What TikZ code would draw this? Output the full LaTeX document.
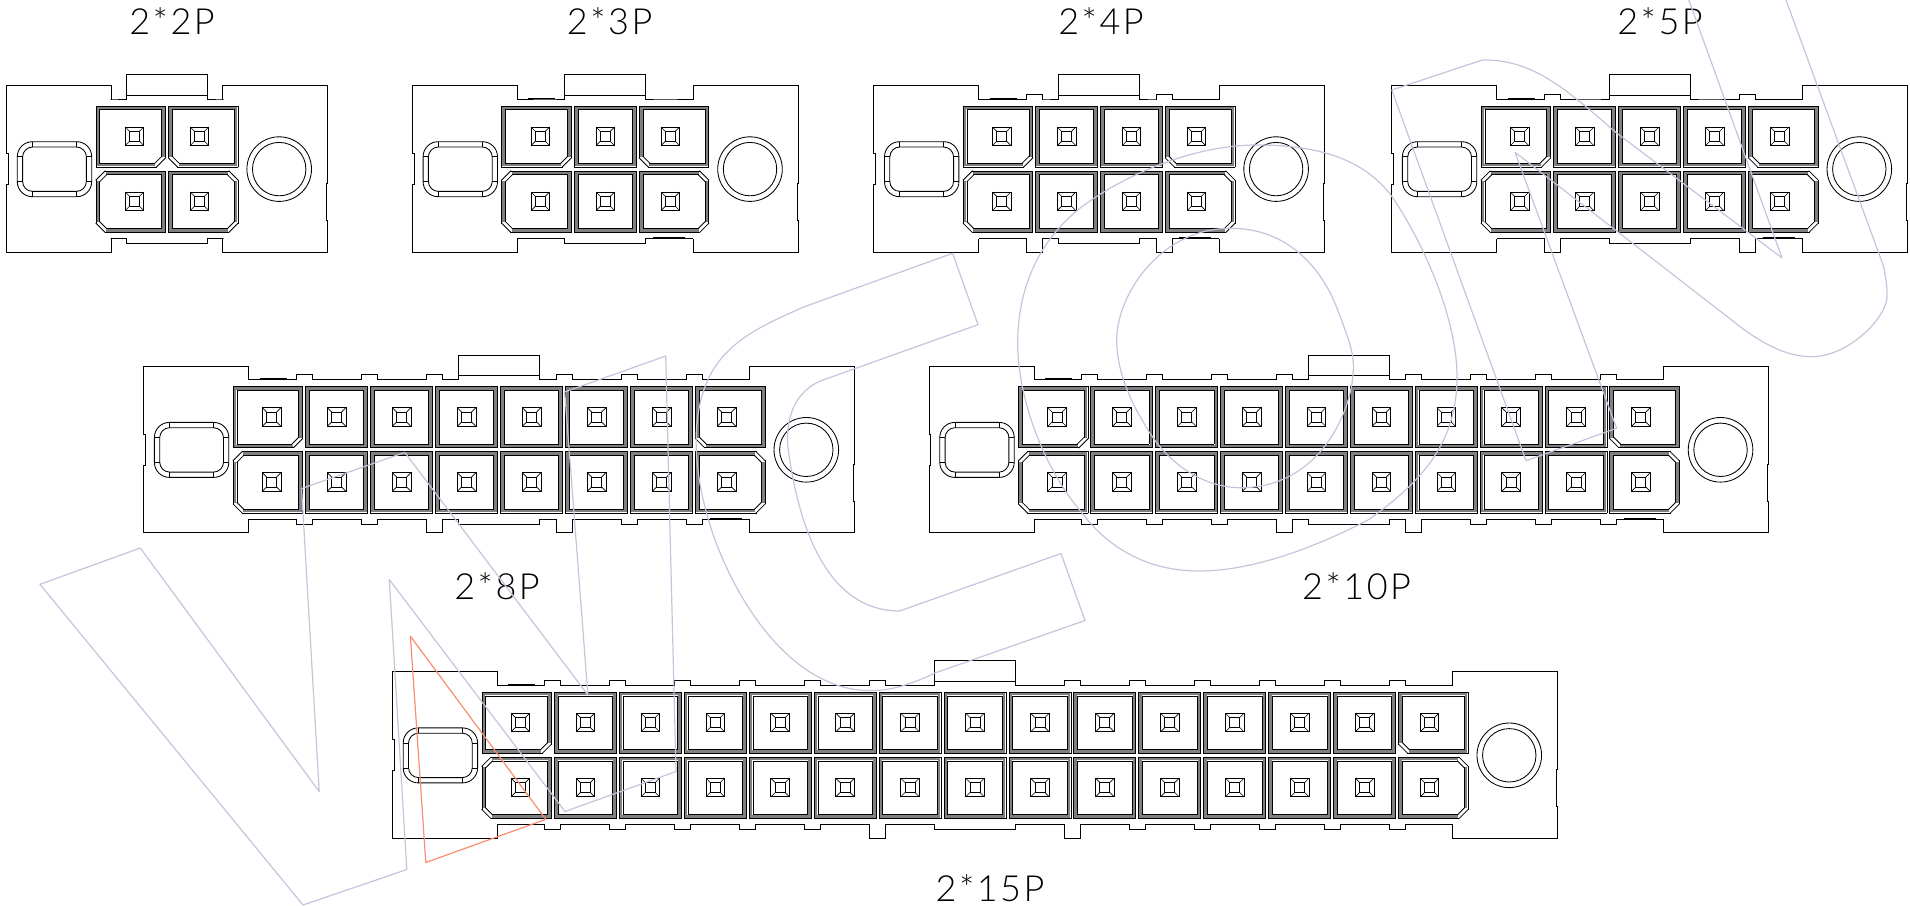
\documentclass[tikz,border=0pt]{standalone}
\usepackage{fontspec}
\newfontfamily\capfont[LetterSpace=7]{Lato Light}
\usetikzlibrary{positioning}
\definecolor{markblue}{RGB}{196,196,220}
\definecolor{markred}{RGB}{250,140,112}
\tikzstyle{partline} = [draw, black, line width=0.85pt, line join=miter]
\tikzstyle{cavityline} = [draw, black, line width=0.8pt, line cap=rect]
\tikzstyle{cavityband} = [draw, black!50, line width=2.6pt, line cap=rect]
\tikzstyle{pinline} = [draw, black, line width=0.8pt]
\tikzstyle{watermark} = [draw, markblue, line width=1.2pt, line join=round]
\tikzstyle{redmark} = [draw, markred, line width=1.2pt, line join=round]
\tikzstyle{caption} = [inner sep=0pt, font=\capfont\fontsize{36}{36}\selectfont]

% left, top, right, bottom, then chamfers top-left, top-right, bottom-right, bottom-left
\newcommand{\cavity}[8]{
    \pgfmathsetmacro\gtl{#5>0 ? #5+0.5 : 0}
    \pgfmathsetmacro\gtr{#6>0 ? #6+0.5 : 0}
    \pgfmathsetmacro\gbr{#7>0 ? #7+0.5 : 0}
    \pgfmathsetmacro\gbl{#8>0 ? #8+0.5 : 0}
    \path [cavityband] (#1+1.9+\gtl,#2+1.9) -- (#3-1.9-\gtr,#2+1.9);
    \path [cavityband] (#3-1.9,#2+1.9+\gtr) -- (#3-1.9,#4-1.9-\gbr);
    \path [cavityband] (#3-1.9-\gbr,#4-1.9) -- (#1+1.9+\gbl,#4-1.9);
    \path [cavityband] (#1+1.9,#4-1.9-\gbl) -- (#1+1.9,#2+1.9+\gtl);
    \foreach \d in {0,3.8} {
        \pgfmathsetmacro\ctl{#5>0 ? #5-0.59*\d : 0}
        \pgfmathsetmacro\ctr{#6>0 ? #6-0.59*\d : 0}
        \pgfmathsetmacro\cbr{#7>0 ? #7-0.59*\d : 0}
        \pgfmathsetmacro\cbl{#8>0 ? #8-0.59*\d : 0}
        \path [cavityline] (#1+\d+\ctl,#2+\d) -- (#3-\d-\ctr,#2+\d);
        \path [cavityline] (#3-\d,#2+\d+\ctr) -- (#3-\d,#4-\d-\cbr);
        \path [cavityline] (#3-\d-\cbr,#4-\d) -- (#1+\d+\cbl,#4-\d);
        \path [cavityline] (#1+\d,#4-\d-\cbl) -- (#1+\d,#2+\d+\ctl);
        \ifdim\ctl pt>0pt \path [cavityline] (#1+\d,#2+\d+\ctl) -- (#1+\d+\ctl,#2+\d); \fi
        \ifdim\ctr pt>0pt \path [cavityline] (#3-\d-\ctr,#2+\d) -- (#3-\d,#2+\d+\ctr); \fi
        \ifdim\cbr pt>0pt \path [cavityline] (#3-\d,#4-\d-\cbr) -- (#3-\d-\cbr,#4-\d); \fi
        \ifdim\cbl pt>0pt \path [cavityline] (#1+\d+\cbl,#4-\d) -- (#1+\d,#4-\d-\cbl); \fi
    }
}

% first pin x, upper pin y, pins per row, pin pitch
\newcommand{\connector}[4]{
\begin{scope}[shift={(#1,#2)}]
    \pgfmathsetmacro\lastx{(#3-1)*#4}
    \pgfmathsetmacro\midx{\lastx/2}
    \pgfmathtruncatemacro\nmid{floor((#3-1)/2)}
    \pgfmathsetmacro\oddoff{mod(#3,2)==1 ? 0.5 : 0}
    % body, one half each side of the middle
    \foreach \s in {-1,1} {
        \begin{scope}[shift={(\midx,0)}, xscale=\s]
            \pgfmathsetmacro\hw{\midx+23}
            \pgfmathsetmacro\edge{\midx+128}
            \pgfmathsetmacro\joga{\s<0 ? 17 : 47}
            \pgfmathsetmacro\jogb{\s<0 ? 48 : 84}
            \pgfmathsetmacro\jogw{\s<0 ? 1.7 : 1}
            \path [partline] (0,-61.6) -- (40.5,-61.6) -- (40.5,-37.3)
                \foreach \j [evaluate=\j as \o using (\j-\oddoff)*#4,
                             evaluate=\j as \mx using {(\o<40) ? 48.5 : \o},
                             evaluate=\j as \h using {(\o<40) ? 0 : 5}] in {0,...,\nmid} {
                    -- (\mx-8,-37.3) -- (\mx-8,-37.3-\h) -- (\mx+8,-37.3-\h) -- (\mx+8,-37.3)
                }
                -- (\hw,-37.3) -- (\hw,-50.6) -- (\edge,-50.6) -- (\edge,\joga)
                -- (\edge-\jogw,\joga) -- (\edge-\jogw,\jogb) -- (\edge,\jogb)
                -- (\edge,115.7) -- (\hw,115.7) -- (\hw,102.4);
            \path [partline] (0,107.4) -- (40.5,107.4) -- (40.5,102.4)
                \foreach \j [evaluate=\j as \o using (\j-\oddoff)*#4,
                             evaluate=\j as \mx using {(\o<40) ? 48.5 : \o},
                             evaluate=\j as \h using {(\o<40) ? 0 : ((\o-#4<40) ? 13.3 : 5)}] in {0,...,\nmid} {
                    -- (\mx-8,102.4) -- (\mx-8,102.4+\h) -- (\mx+8,102.4+\h) -- (\mx+8,102.4)
                }
                -- (\hw,102.4);
            \path [partline] (0,-41.3) -- (40.5,-41.3);
        \end{scope}
    }
    \ifnum#3>2
        \path [partline] (-12,-38.3) -- (15,-38.3);
        \path [partline] (\lastx-17,101.6) -- (\lastx+15,101.6);
    \fi
    % cavities and pins
    \foreach \col in {1,...,#3} {
        \pgfmathsetmacro\px{(\col-1)*#4}
        \pgfmathsetmacro\lx{\px-31-(\col==1 ? 7.5 : 0)}
        \pgfmathsetmacro\rx{\px+31+(\col==#3 ? 7.5 : 0)}
        \pgfmathsetmacro\cf{\col==1 ? 9 : 0}
        \pgfmathsetmacro\cl{\col==#3 ? 9 : 0}
        \cavity{\lx}{-30.3}{\rx}{30.7}{0}{0}{\cf}{\cl}
        \cavity{\lx}{34.7}{\rx}{96}{\cf}{\cl}{\cl}{\cf}
        \foreach \py in {0,65} {
            \path [pinline] (\px-9.3,\py-9.3) rectangle (\px+9.3,\py+9.3);
            \path [pinline] (\px-5,\py-5) rectangle (\px+5,\py+5);
            \foreach \a/\b in {-1/-1,1/-1,1/1,-1/1}
                \path [pinline, line width=0.6pt] (\px+\a*5,\py+\b*5) -- (\px+\a*9.3,\py+\b*9.3);
        }
    }
    % slot
    \path [partline, rounded corners=15pt] (-117.2,5.4) rectangle (-42.8,60.4);
    \path [partline, rounded corners=10pt] (-111.9,10.7) rectangle (-48.1,55.1);
    \foreach \a in {-102,-58} {
        \path [partline, line width=0.6pt] (\a,5.4) -- (\a,10.7);
        \path [partline, line width=0.6pt] (\a,55.1) -- (\a,60.4);
    }
    \foreach \b in {20.4,45.4} {
        \path [partline, line width=0.6pt] (-117.2,\b) -- (-111.9,\b);
        \path [partline, line width=0.6pt] (-48.1,\b) -- (-42.8,\b);
    }
    % round peg
    \path [partline] (\lastx+79.7,32.8) circle (32.3pt);
    \path [partline] (\lastx+79.7,32.8) circle (26.7pt);
\end{scope}
}

\begin{document}
\begin{tikzpicture}[x=1pt,y=-1pt]
    \path [use as bounding box, clip] (0,0) rectangle (1910,905);
    % Draw connectors
    \connector{134.5}{136.3}{2}{65}
    \connector{540.3}{136.3}{3}{65}
    \connector{1001.7}{136.3}{4}{64.9}
    \connector{1519.6}{136.3}{5}{65}
    \connector{271.6}{417}{8}{65}
    \connector{1057}{417}{10}{64.87}
    \connector{520.4}{722.5}{15}{64.94}
    % Place nodes
    \node [caption] (capA) at (172,21) {2*2P};
    \node [caption] (capB) at (609.7,21) {2*3P};
    \node [caption] (capC) at (1101,21) {2*4P};
    \node [caption] (capD) at (1660,21) {2*5P};
    \node [caption] (capE) at (497,586) {2*8P};
    \node [caption] (capF) at (1356.6,586) {2*10P};
    \node [caption] (capG) at (990,888) {2*15P};
    % Draw watermark
    \path [watermark] (40,584.3) -- (140.3,548) -- (319.2,791.5) -- (301.6,488.5) -- (404.8,452.4)
        -- (587.9,695) -- (564.7,392) -- (665.7,356) -- (676,771.5) -- (565,811.5)
        -- (389.3,579.6) -- (406.8,869.5) -- (303,905) -- cycle;
    \path [watermark] (952.6,253.3) -- (978,324.7) -- (823,380)
        .. controls (795,390) and (783,420) .. (789,455)
        .. controls (797,510) and (820,611) .. (899.7,611)
        -- (1061,553.5) -- (1085,620.5) -- (934.8,673)
        .. controls (900,690) and (880,691) .. (866,690.5)
        .. controls (800,688) and (745,620) .. (715,540)
        .. controls (690,470) and (688,400) .. (720,360)
        .. controls (740,335) and (770,322) .. (804.4,306.7) -- cycle;
    \path [watermark] (1257,145) .. controls (1320,145) and (1365,160) .. (1392,196.7)
        .. controls (1425,245) and (1457,320) .. (1457,376.7)
        .. controls (1457,440) and (1425,480) .. (1368,520)
        .. controls (1310,550) and (1250,571) .. (1199,571)
        .. controls (1150,571) and (1110,550) .. (1082,513)
        .. controls (1045,470) and (1017.7,400) .. (1017.7,343.3)
        .. controls (1017.7,280) and (1045,235) .. (1082,206.7)
        .. controls (1120,178) and (1190,145) .. (1257,145) -- cycle;
    \path [watermark] (1230.5,228.3) .. controls (1285,228) and (1320,265) .. (1336.4,306.7)
        .. controls (1347,335) and (1353.4,350) .. (1353.4,366.7)
        .. controls (1353.4,410) and (1320,487.7) .. (1241,487.7)
        .. controls (1200,487.7) and (1165,460) .. (1146,426.7)
        .. controls (1125,392) and (1116.7,365) .. (1116.7,340)
        .. controls (1116.7,295) and (1160,228.3) .. (1230.5,228.3) -- cycle;
    \path [watermark] (1391.8,90) -- (1526,460.7) -- (1616.6,428.3) -- (1515,152.3)
        -- (1731.6,320) .. controls (1765,347) and (1790,357) .. (1812.7,356.7)
        .. controls (1850,356) and (1890,315) .. (1887,293)
        .. controls (1887,283) and (1885,275) .. (1883.7,266.7)
        -- (1775,-30) -- (1678,-30) -- (1782,258) -- (1616.6,133)
        .. controls (1570,93) and (1535,59) .. (1482.4,60) -- cycle;
    \path [redmark] (410.4,636.2) -- (425.8,862.5) -- (545.8,819.3) -- cycle;
\end{tikzpicture}
\end{document}
